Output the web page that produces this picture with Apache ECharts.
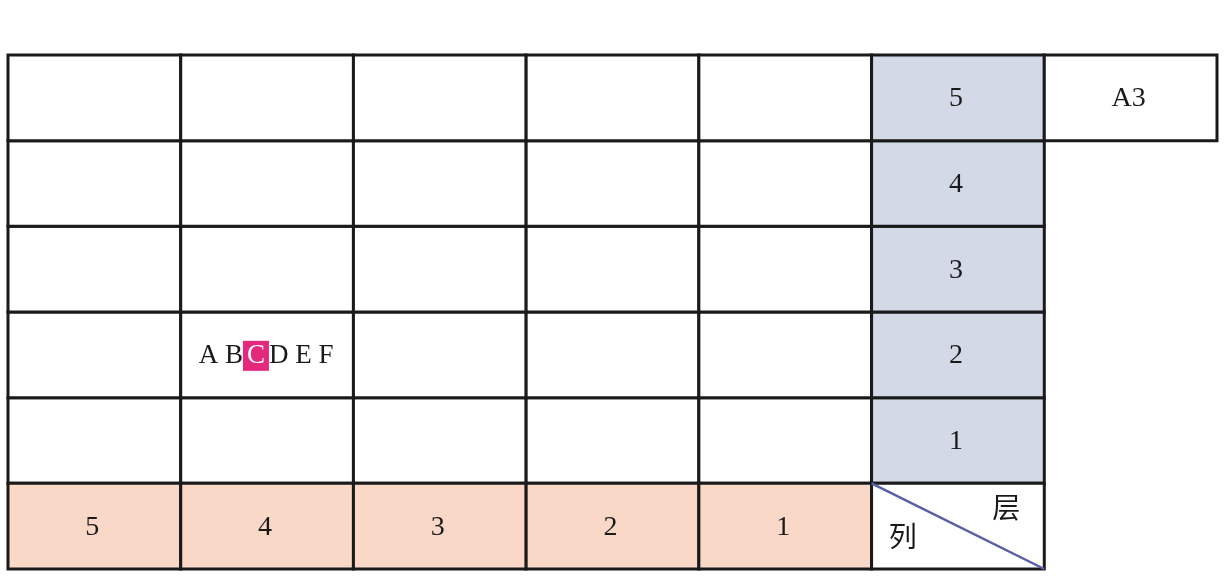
<!DOCTYPE html>
<html lang="zh">
<head>
<meta charset="UTF-8">
<style>
  html, body { height: 100%; margin: 0; background: #fff; }
</style>
</head>
<body>
<div id="chart" style="width:1224px;height:585px;"></div>
<script src="https://cdn.jsdelivr.net/npm/echarts@6/dist/echarts.min.js"></script>
<script>
// grid is 7 columns x 6 rows, row 0 at the bottom
var colLabels = ['5', '4', '3', '2', '1'];     // bottom row, columns 0..4
var layerLabels = ['1', '2', '3', '4', '5'];   // column 5, rows 1..5
var slotLetters = ['A', 'B', 'C', 'D', 'E', 'F'];
var slotPick = 2;                               // highlighted letter (C)
var slotCell = [1, 2];                          // column, row of the letters
var tagText = 'A3';
var tagCell = [6, 5];
var cornerCell = [5, 0];
var cornerTop = '层';
var cornerBottom = '列';

var SERIF = '"Liberation Serif", "DejaVu Serif", serif';
var CJK = '"Noto Sans CJK SC", sans-serif';

// cells: [col, row, kind, text]
var cells = [];
for (var r = 1; r <= 5; r++) {
    for (var c = 0; c < 5; c++) {
        var isSlot = c === slotCell[0] && r === slotCell[1];
        cells.push([c, r, isSlot ? 'slot' : 'blank', '']);
    }
}
for (var i = 0; i < colLabels.length; i++) cells.push([i, 0, 'col', colLabels[i]]);
for (var j = 0; j < layerLabels.length; j++) cells.push([5, j + 1, 'layer', layerLabels[j]]);
cells.push([tagCell[0], tagCell[1], 'tag', tagText]);
cells.push([cornerCell[0], cornerCell[1], 'corner', '']);

var fills = { col: '#f9d8c7', layer: '#d4d9e8' };

function slotRich() {
    var before = slotLetters.slice(0, slotPick).join(' ');
    var after = slotLetters.slice(slotPick + 1).join(' ');
    return '{n|' + before + '}{h|' + slotLetters[slotPick] + '}{n|' + after + '}';
}

function renderItem(params, api) {
    var c = api.value(0), r = api.value(1);
    var kind = cells[params.dataIndex][2];
    var text = cells[params.dataIndex][3];
    var p0 = api.coord([c, r + 1]);
    var p1 = api.coord([c + 1, r]);
    var w = p1[0] - p0[0], h = p1[1] - p0[1];
    var children = [{
        type: 'rect',
        shape: { x: p0[0], y: p0[1], width: w, height: h },
        style: { fill: fills[kind] || '#fff', stroke: '#1a1a1a', lineWidth: 3 }
    }];
    if (kind === 'col' || kind === 'layer' || kind === 'tag') {
        children.push({
            type: 'text',
            style: {
                x: p0[0] + w / 2 - 2, y: p0[1] + h / 2 + 1, text: text,
                font: '28px ' + SERIF, fill: '#1a1a1a', align: 'center', verticalAlign: 'middle'
            }
        });
    } else if (kind === 'slot') {
        children.push({
            type: 'text',
            style: {
                x: p0[0] + w / 2 - 1, y: p0[1] + h / 2 + 1, text: slotRich(),
                align: 'center', verticalAlign: 'middle',
                rich: {
                    n: { fontFamily: SERIF, fontSize: 27, fill: '#1a1a1a' },
                    h: { fontFamily: SERIF, fontSize: 27, fill: '#fff', backgroundColor: '#e4287c', padding: [2, 4, 1, 4] }
                }
            }
        });
    } else if (kind === 'corner') {
        children.push({
            type: 'line',
            shape: { x1: p0[0], y1: p0[1], x2: p1[0], y2: p1[1] },
            style: { stroke: '#5560a8', lineWidth: 2.5 }
        });
        children.push({
            type: 'text',
            style: {
                x: p0[0] + w * 0.78, y: p0[1] + h * 0.28, text: cornerTop,
                font: '28px ' + CJK, fill: '#1a1a1a', align: 'center', verticalAlign: 'middle'
            }
        });
        children.push({
            type: 'text',
            style: {
                x: p0[0] + w * 0.18, y: p0[1] + h * 0.62, text: cornerBottom,
                font: '28px ' + CJK, fill: '#1a1a1a', align: 'center', verticalAlign: 'middle'
            }
        });
    }
    return { type: 'group', children: children };
}

var myChart = echarts.init(document.getElementById('chart'));
myChart.setOption({
    animation: false,
    grid: { left: 8, right: 7, top: 55, bottom: 16 },
    xAxis: { type: 'value', min: 0, max: 7, show: false },
    yAxis: { type: 'value', min: 0, max: 6, show: false },
    series: [{
        type: 'custom',
        renderItem: renderItem,
        data: cells.map(function (d) { return [d[0], d[1]]; }),
        silent: true
    }]
});
</script>
</body>
</html>
